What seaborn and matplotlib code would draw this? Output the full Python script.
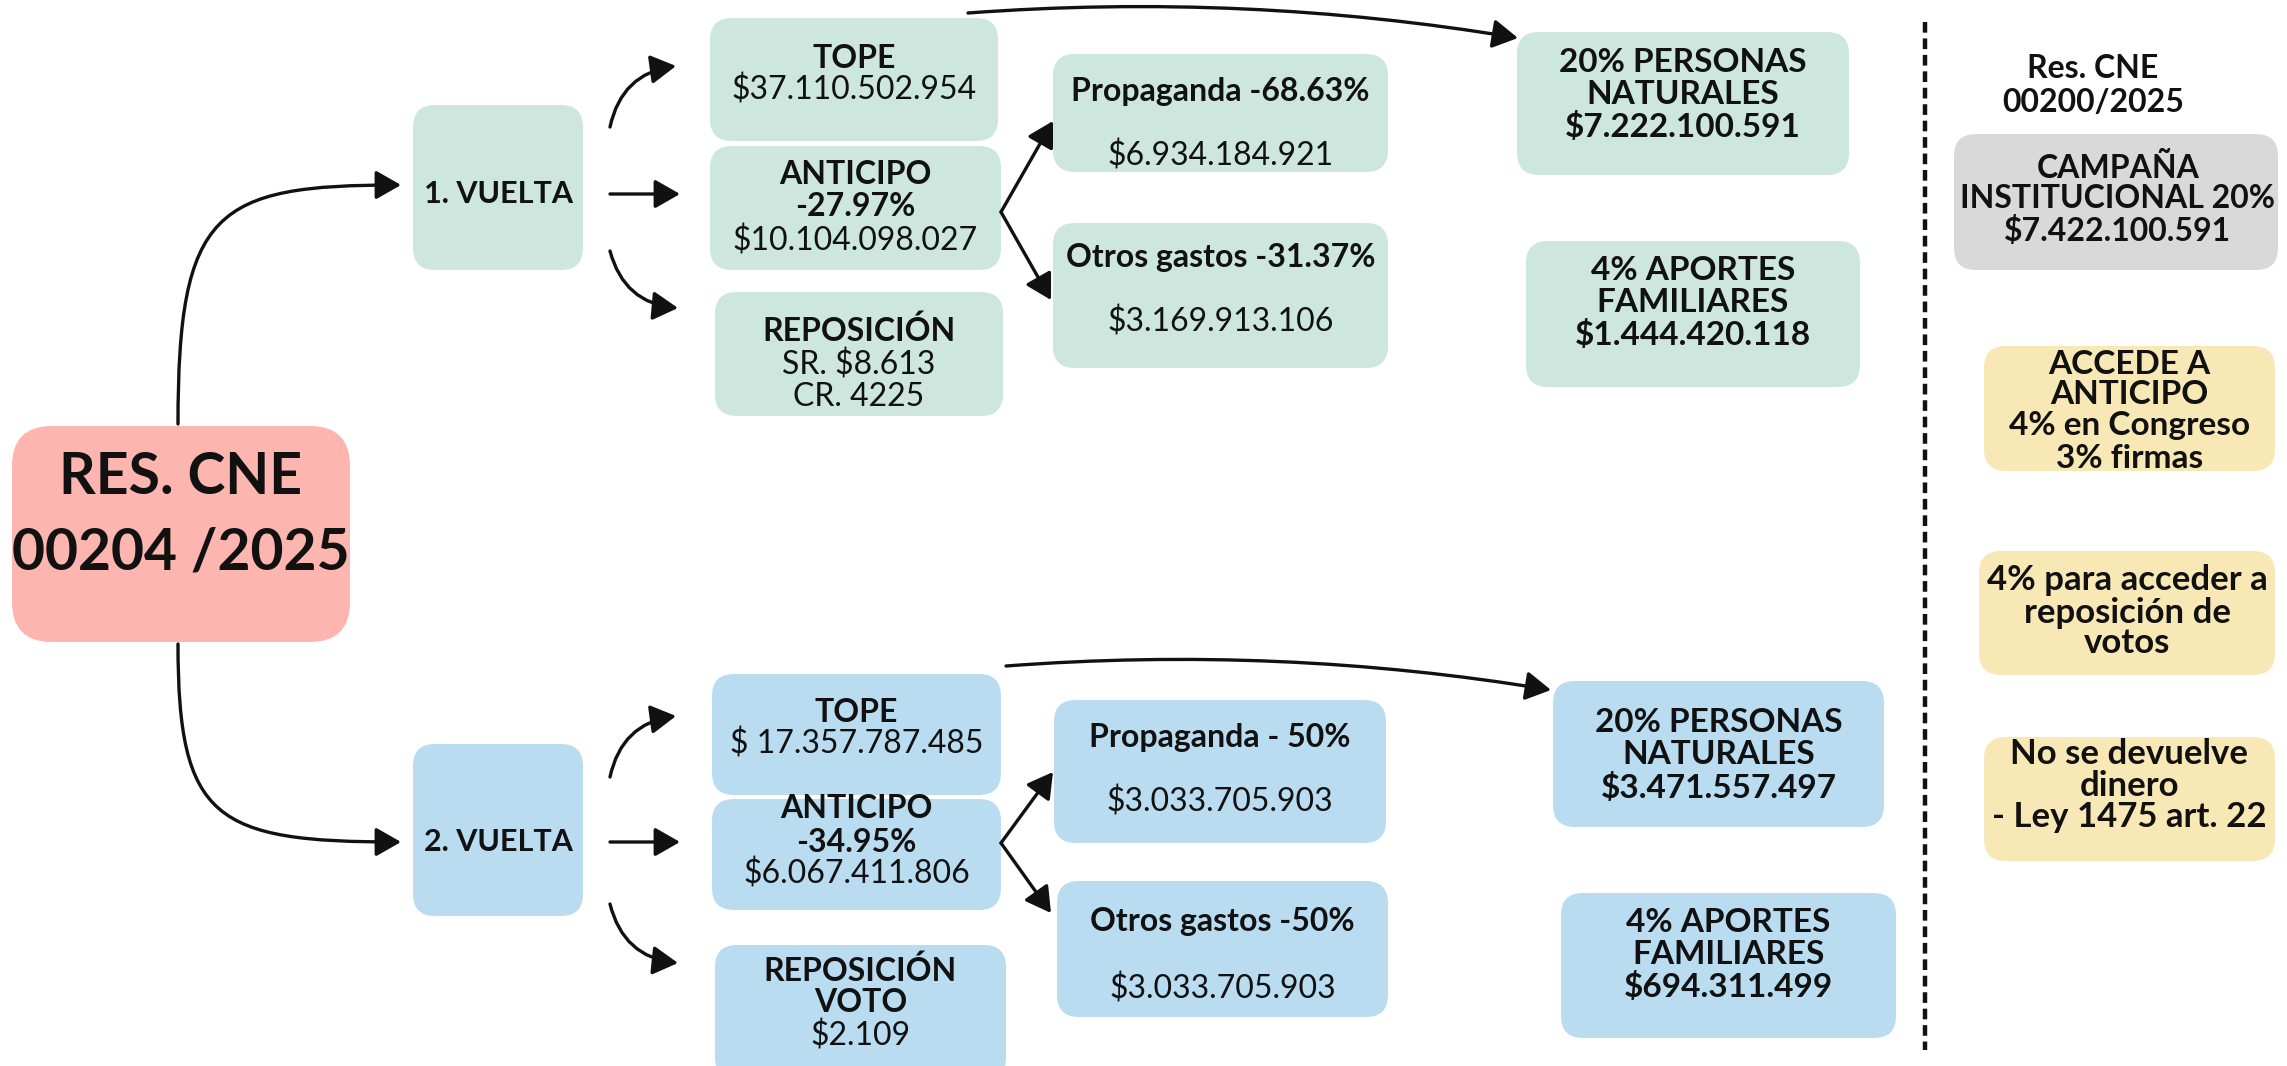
import matplotlib
matplotlib.use("Agg")
import matplotlib.pyplot as plt
import seaborn as sns
from matplotlib.patches import FancyBboxPatch, FancyArrowPatch
from matplotlib.path import Path

# ---- texts of the diagram (top row = 1. vuelta, bottom row = 2. vuelta)
res_text = ["RES. CNE", "00204 /2025"]
vuelta_text = ["1. VUELTA", "2. VUELTA"]
tope_text = [["TOPE", "$37.110.502.954"], ["TOPE", "$ 17.357.787.485"]]
anticipo_text = [["ANTICIPO", "-27.97%", "$10.104.098.027"],
                 ["ANTICIPO", "-34.95%", "$6.067.411.806"]]
reposicion_text = [["REPOSICIÓN", "SR. $8.613", "CR. 4225"],
                   ["REPOSICIÓN", "VOTO", "$2.109"]]
propaganda_text = [["Propaganda -68.63%", "$6.934.184.921"],
                   ["Propaganda - 50%", "$3.033.705.903"]]
otros_text = [["Otros gastos -31.37%", "$3.169.913.106"],
              ["Otros gastos -50%", "$3.033.705.903"]]
personas_text = [["20% PERSONAS", "NATURALES", "$7.222.100.591"],
                 ["20% PERSONAS", "NATURALES", "$3.471.557.497"]]
familiares_text = [["4% APORTES", "FAMILIARES", "$1.444.420.118"],
                   ["4% APORTES", "FAMILIARES", "$694.311.499"]]
side_title = ["Res. CNE", "00200/2025"]
campana_text = ["CAMPAÑA", "INSTITUCIONAL 20%", "$7.422.100.591"]
notes_text = [["ACCEDE A", "ANTICIPO", "4% en Congreso", "3% firmas"],
              ["4% para acceder a", "reposición de", "votos"],
              ["No se devuelve", "dinero", "- Ley 1475 art. 22"]]

# ---- colours
RED = "#fdb5af"
GREEN = "#cde7df"
BLUE = "#badcf0"
GRAY = "#d9d9d9"
YELLOW = "#f7e8b6"
INK = "#111111"

sns.set_theme(style="white")
plt.rcParams["font.family"] = ["Lato", "DejaVu Sans"]

W, H = 2287, 1066
fig = plt.figure(figsize=(W / 100, H / 100), dpi=100)
ax = fig.add_axes([0, 0, 1, 1])
ax.set_xlim(0, W)
ax.set_ylim(H, 0)
ax.axis("off")


def box(rect, color, lines, ys, weights, size=23, cx=None, r=22):
    x0, y0, x1, y1 = rect
    ax.add_patch(FancyBboxPatch((x0, y0), x1 - x0, y1 - y0,
                                boxstyle=f"round,pad=0,rounding_size={r}",
                                fc=color, ec="none", zorder=1))
    if cx is None:
        cx = (x0 + x1) / 2
    for txt, y, w in zip(lines, ys, weights):
        ax.text(cx, y, txt, ha="center", va="center", fontsize=size,
                fontweight=w, color=INK, zorder=3)


def arrow(p0, p1, rad=0.0):
    ax.add_patch(FancyArrowPatch(p0, p1, connectionstyle=f"arc3,rad={rad}",
                                 arrowstyle="-|>,head_length=0.7,head_width=0.4",
                                 mutation_scale=22, lw=2.4, color=INK,
                                 shrinkA=0, shrinkB=0, zorder=2))


def curve(pts):
    path = Path(pts, [Path.MOVETO, Path.CURVE4, Path.CURVE4, Path.CURVE4])
    ax.add_patch(FancyArrowPatch(path=path,
                                 arrowstyle="-|>,head_length=0.7,head_width=0.4",
                                 mutation_scale=22, lw=2.4, color=INK, zorder=2))


B, L = "bold", "normal"

# main resolution box
box((12, 426, 350, 642), RED, res_text, [477, 553], [B, B], size=41, r=40)
curve([(178, 424), (178, 210), (215, 185), (401, 185)])
curve([(178, 644), (178, 820), (215, 842), (401, 842)])

# per-round layout
rows = [
    dict(color=GREEN, v=(413, 105, 583, 270), vy=194,
         tope=(710, 18, 998, 141), tope_y=[58, 90],
         ant=(710, 146, 1001, 270), ant_y=[175, 207, 241],
         rep=(715, 292, 1003, 416), rep_y=[331, 365, 397], rep_w=[B, L, L],
         prop=(1053, 54, 1388, 172), prop_y=[92, 156],
         otr=(1053, 223, 1388, 368), otr_y=[258, 322],
         per=(1517, 32, 1849, 175), per_y=[63, 95, 127],
         fam=(1526, 241, 1860, 387), fam_y=[271, 303, 335],
         long=((968, 13), (1518, 38)),
         a_top=((610, 127), (676, 66)), a_mid=((610, 194), (680, 194)),
         a_bot=((610, 251), (678, 308)), src=(1001, 212),
         a_prop=(1053, 121), a_otr=(1051, 300)),
    dict(color=BLUE, v=(413, 744, 583, 916), vy=842,
         tope=(712, 674, 1001, 795), tope_y=[712, 744],
         ant=(712, 799, 1001, 910), ant_y=[809, 842, 874],
         rep=(715, 945, 1006, 1080), rep_y=[971, 1003, 1036], rep_w=[B, B, L],
         prop=(1054, 700, 1386, 843), prop_y=[737, 802],
         otr=(1057, 881, 1388, 1017), otr_y=[922, 989],
         per=(1553, 681, 1884, 827), per_y=[722, 754, 788],
         fam=(1561, 893, 1896, 1038), fam_y=[923, 955, 987],
         long=((1006, 666), (1551, 690)),
         a_top=((610, 777), (676, 716)), a_mid=((610, 842), (680, 842)),
         a_bot=((610, 904), (678, 963)), src=(1001, 843),
         a_prop=(1053, 772), a_otr=(1051, 913)),
]

for i, rw in enumerate(rows):
    c = rw["color"]
    box(rw["v"], c, [vuelta_text[i]], [rw["vy"]], [B], size=22)
    box(rw["tope"], c, tope_text[i], rw["tope_y"], [B, L])
    box(rw["ant"], c, anticipo_text[i], rw["ant_y"], [B, B, L])
    box(rw["rep"], c, reposicion_text[i], rw["rep_y"], rw["rep_w"])
    box(rw["prop"], c, propaganda_text[i], rw["prop_y"], [B, L])
    box(rw["otr"], c, otros_text[i], rw["otr_y"], [B, L])
    box(rw["per"], c, personas_text[i], rw["per_y"], [B, B, B], size=24)
    box(rw["fam"], c, familiares_text[i], rw["fam_y"], [B, B, B], size=24)

    arrow(*rw["a_top"], rad=-0.35)
    arrow(*rw["a_mid"])
    arrow(*rw["a_bot"], rad=0.35)
    arrow(rw["src"], rw["a_prop"])
    arrow(rw["src"], rw["a_otr"])
    arrow(*rw["long"], rad=-0.06)

# right-hand column
ax.plot([1925, 1925], [22, 1050], color=INK, lw=3.2, linestyle=(0, (2.4, 1.3)))
for txt, y in zip(side_title, [69, 102]):
    ax.text(2093, y, txt, ha="center", va="center", fontsize=23,
            fontweight="bold", color=INK)
box((1954, 134, 2278, 270), GRAY, campana_text, [168, 199, 231], [B, B, B],
    size=23, cx=2118)
box((1984, 346, 2275, 471), YELLOW, notes_text[0], [365, 395, 426, 458], [B] * 4, size=24)
box((1979, 551, 2275, 675), YELLOW, notes_text[1], [580, 613, 643], [B] * 3, size=25)
box((1984, 737, 2275, 861), YELLOW, notes_text[2], [754, 786, 817], [B] * 3, size=25)

fig.savefig("out.png", dpi=100, facecolor="white")
